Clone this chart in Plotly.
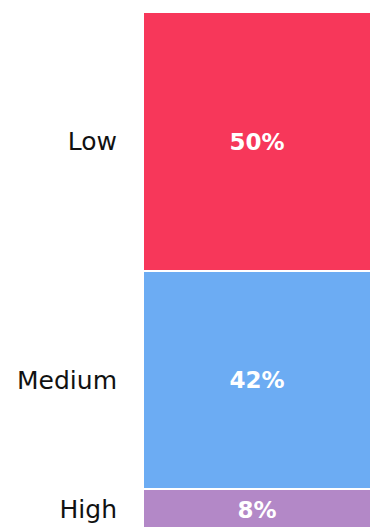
import plotly.graph_objects as go
import numpy as np

# Share of each level (stacked bottom -> top: High, Medium, Low)
levels = ["High", "Medium", "Low"]
shares = [8, 42, 50]
colors = ["#B388C7", "#6CACF3", "#F7375A"]

FONT = "DejaVu Sans, sans-serif"

fig = go.Figure()
for name, val, col in zip(levels, shares, colors):
    fig.add_trace(go.Bar(
        x=[""], y=[val], name=name,
        marker=dict(color=col, line=dict(color="white", width=2)),
        text=[f"{val}%"], textposition="inside", insidetextanchor="middle",
        textfont=dict(color="white", size=23, family=FONT, weight="bold"),
        hoverinfo="skip",
    ))

# Category labels placed at the centre of each stacked segment
cum = np.cumsum(shares)
mids = cum - np.array(shares) / 2

fig.update_layout(
    barmode="stack", bargap=0,
    width=371, height=530,
    margin=dict(l=143, r=0, t=12, b=0),
    paper_bgcolor="white", plot_bgcolor="white",
    showlegend=False,
    font=dict(family=FONT, color="#111111"),
    xaxis=dict(visible=False),
    yaxis=dict(range=[0, 100], tickvals=list(mids), ticktext=levels,
               showgrid=False, zeroline=False, showline=False, ticks="",
               tickfont=dict(size=25, color="#111111"), ticklabelstandoff=25),
)
fig.write_html("out.html")
